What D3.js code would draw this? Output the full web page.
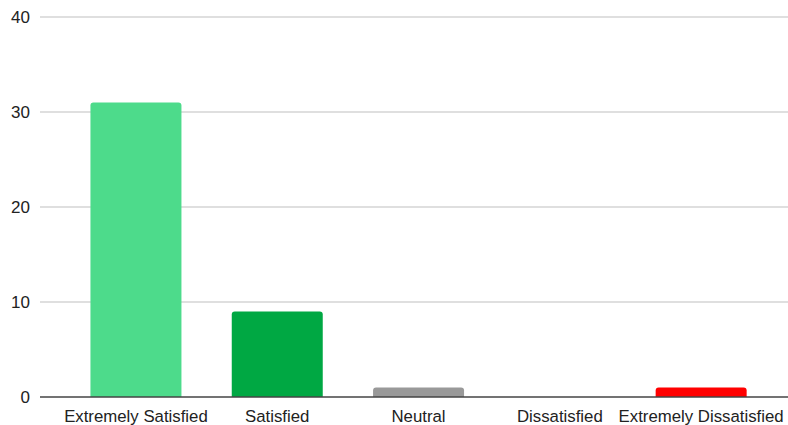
<!DOCTYPE html>
<html>
<head>
<meta charset="utf-8">
<script src="https://cdn.jsdelivr.net/npm/d3@7"></script>
<style>
  body { margin: 0; background: #fff; }
  text { font-family: "Liberation Sans", Arial, sans-serif; fill: #222; }
</style>
</head>
<body>
<div id="chart"></div>
<script>
// chart data
var categories = ["Extremely Satisfied", "Satisfied", "Neutral", "Dissatisfied", "Extremely Dissatisfied"];
var counts = [31, 9, 1, 0, 1];
var barColors = ["#4ddb8b", "#00a843", "#999999", "#999999", "#ff0000"];
var yTicks = [0, 10, 20, 30, 40];

var width = 788, height = 425;

var svg = d3.select("#chart").append("svg")
            .attr("width", width)
            .attr("height", height);

var x = d3.scaleBand()
          .domain(categories)
          .range([65.3, 771.8])
          .paddingInner(0.356)
          .paddingOuter(0.178);

var y = d3.scaleLinear()
          .domain([0, 40])
          .range([397, 17]);

// gridlines
svg.selectAll("line.grid")
  .data(yTicks.filter(function(d) { return d > 0; }))
  .enter()
  .append("line")
  .attr("class", "grid")
  .attr("x1", 40)
  .attr("x2", width)
  .attr("y1", function(d) { return y(d); })
  .attr("y2", function(d) { return y(d); })
  .attr("stroke", "#d4d4d4")
  .attr("stroke-width", 1.5);

// y tick labels
svg.selectAll("text.ytick")
  .data(yTicks)
  .enter()
  .append("text")
  .attr("class", "ytick")
  .attr("x", 30)
  .attr("y", function(d) { return y(d) + 6; })
  .attr("text-anchor", "end")
  .style("font-size", "17px")
  .text(function(d) { return d; });

// bars with rounded tops
function barPath(d, i) {
  var x0 = x(categories[i]), w = x.bandwidth();
  var top = y(d), base = y(0);
  var r = Math.min(3, (base - top) / 2);
  if (base - top <= 0) return "";
  return "M" + x0 + "," + base +
         "V" + (top + r) +
         "Q" + x0 + "," + top + " " + (x0 + r) + "," + top +
         "H" + (x0 + w - r) +
         "Q" + (x0 + w) + "," + top + " " + (x0 + w) + "," + (top + r) +
         "V" + base + "Z";
}

svg.selectAll("path.bar")
  .data(counts)
  .enter()
  .append("path")
  .attr("class", "bar")
  .attr("d", barPath)
  .attr("fill", function(d, i) { return barColors[i]; });

// baseline
svg.append("line")
  .attr("x1", 40)
  .attr("x2", width)
  .attr("y1", y(0))
  .attr("y2", y(0))
  .attr("stroke", "#444")
  .attr("stroke-width", 1.5);

// category labels
svg.selectAll("text.name")
  .data(categories)
  .enter()
  .append("text")
  .attr("class", "name")
  .attr("x", function(d) { return x(d) + x.bandwidth() / 2; })
  .attr("y", 422)
  .attr("text-anchor", "middle")
  .style("font-size", "16.8px")
  .text(function(d) { return d; });
</script>
</body>
</html>
